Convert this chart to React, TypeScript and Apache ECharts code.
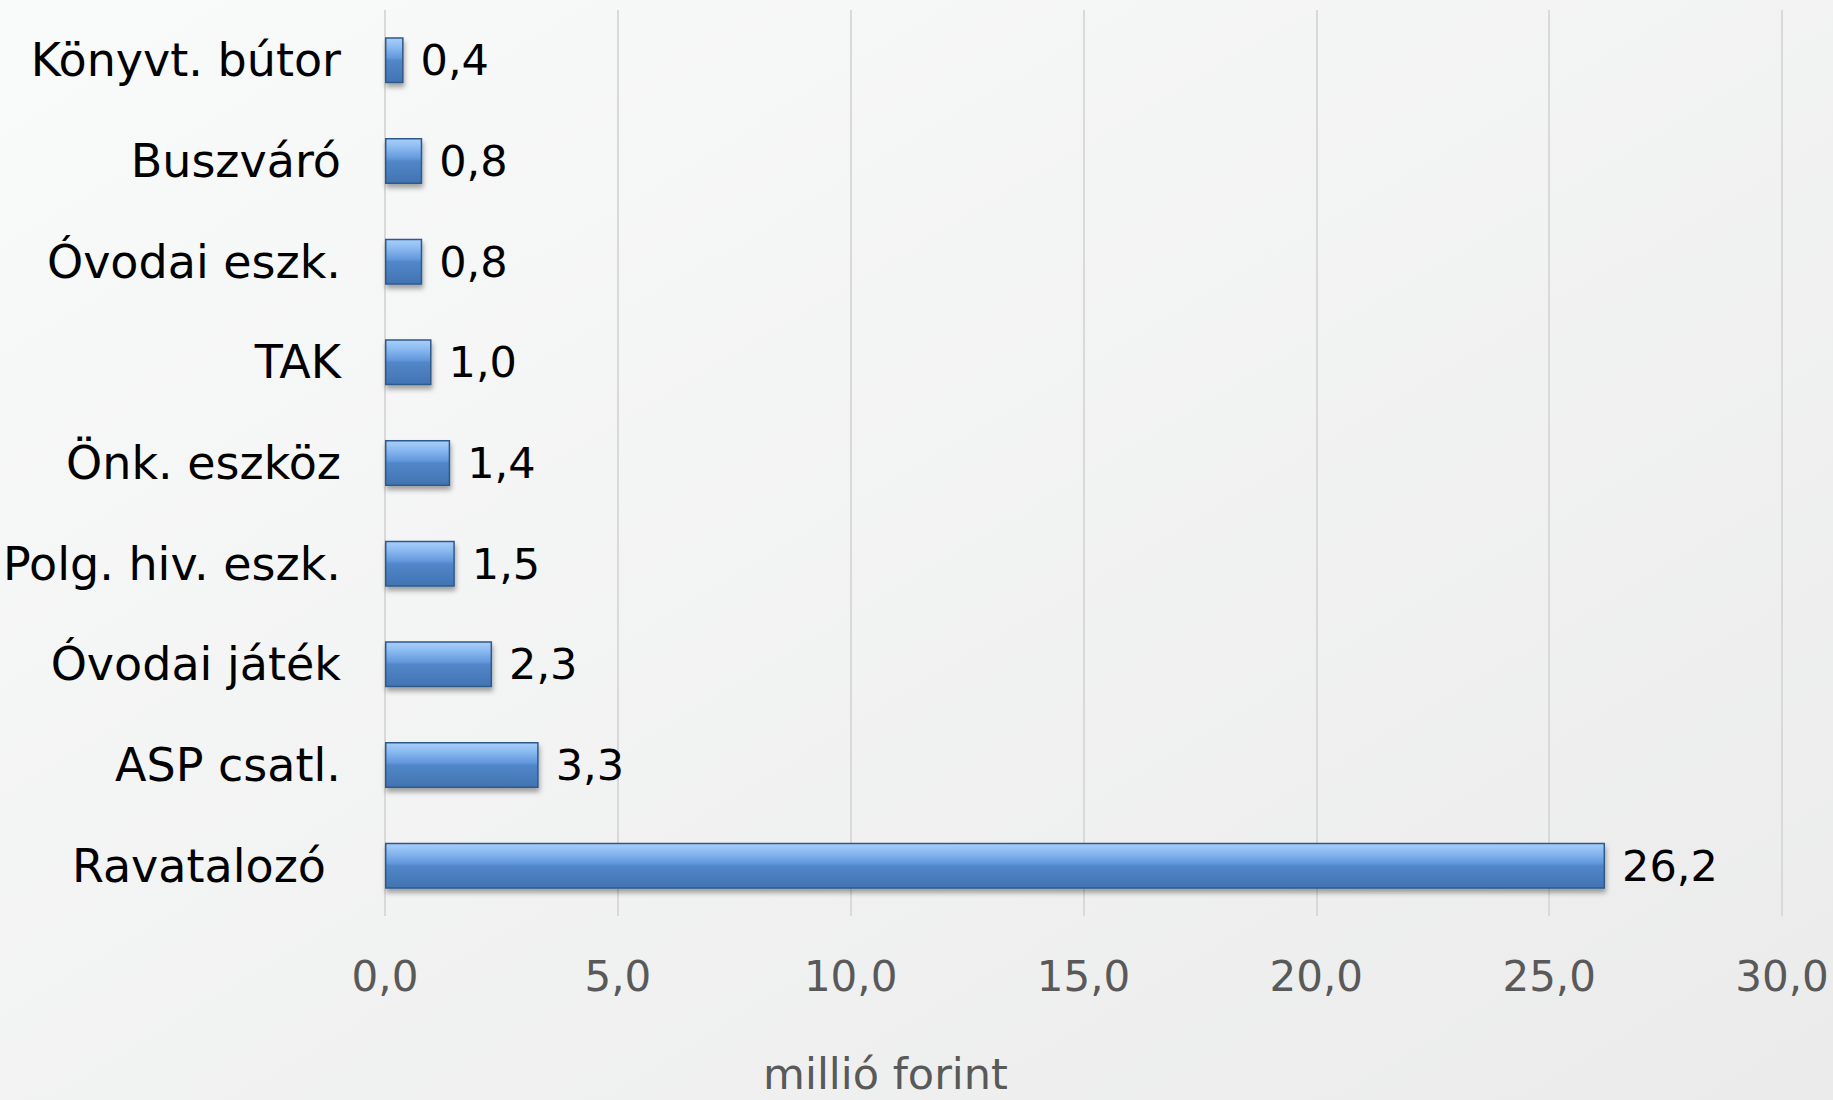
import React, { useEffect, useRef } from "react";
import * as echarts from "echarts";

const categories = [
  "Ravatalozó",
  "ASP csatl.",
  "Óvodai játék",
  "Polg. hiv. eszk.",
  "Önk. eszköz",
  "TAK",
  "Óvodai eszk.",
  "Buszváró",
  "Könyvt. bútor",
];
const values = [26.2, 3.3, 2.3, 1.5, 1.4, 1.0, 0.8, 0.8, 0.4];
const axisName = "millió forint";
const xMin = 0;
const xMax = 30;
const xInterval = 5;

const fmt = (v: number) => v.toFixed(1).replace(".", ",");
const FONT = "DejaVu Sans";

export default function App() {
  const ref = useRef<HTMLDivElement>(null);
  useEffect(() => {
    document.body.style.margin = "0";
    const chart = echarts.init(ref.current!, null, { renderer: "svg" });
    chart.setOption({
      animation: false,
      backgroundColor: new echarts.graphic.LinearGradient(0, 0, 1, 1, [
        { offset: 0, color: "#f9fafa" },
        { offset: 1, color: "#ebebeb" },
      ]),
      grid: { left: 384, right: 51, top: 10, bottom: 183, containLabel: false },
      xAxis: {
        type: "value",
        min: xMin,
        max: xMax,
        interval: xInterval,
        axisLine: { show: false },
        axisTick: { show: false },
        splitLine: { show: true, lineStyle: { color: "#d9d9d9", width: 2 } },
        axisLabel: {
          formatter: (v: number) => fmt(v),
          color: "#595959",
          fontFamily: FONT,
          fontSize: 42,
          margin: 39,
        },
        name: axisName,
        nameLocation: "middle",
        nameGap: 136,
        nameTextStyle: {
          color: "#595959",
          fontFamily: FONT,
          fontSize: 43,
          padding: [0, 396, 0, 0],
        },
      },
      yAxis: {
        type: "category",
        data: categories,
        axisLine: { show: false },
        axisTick: { show: false },
        axisLabel: {
          color: "#000000",
          fontFamily: FONT,
          fontSize: 46,
          margin: 44,
          formatter: (v: string) => (v === "Ravatalozó" ? `{r|${v}}` : v),
          rich: {
            r: {
              color: "#000000",
              fontFamily: FONT,
              fontSize: 46,
              padding: [0, 15, 0, 0],
            },
          },
        },
      },
      series: [
        {
          type: "bar",
          data: values,
          barWidth: 46,
          itemStyle: {
            color: new echarts.graphic.LinearGradient(0, 0, 0, 1, [
              { offset: 0, color: "#a9cff9" },
              { offset: 0.2, color: "#8bbaf1" },
              { offset: 0.45, color: "#6197dc" },
              { offset: 0.5, color: "#5287c9" },
              { offset: 1, color: "#4173b2" },
            ]),
            borderColor: "#2f5a8a",
            borderWidth: 1.5,
            shadowColor: "rgba(0,0,0,0.35)",
            shadowBlur: 5,
            shadowOffsetY: 4,
            shadowOffsetX: 1,
          },
          label: {
            show: true,
            position: "right",
            distance: 17,
            formatter: (p: any) => fmt(p.value),
            color: "#000000",
            fontFamily: FONT,
            fontSize: 43,
          },
        },
      ],
    });
    return () => chart.dispose();
  }, []);
  return (
    <div
      ref={ref}
      style={{ position: "fixed", left: 0, top: 0, width: 1833, height: 1100 }}
    />
  );
}
